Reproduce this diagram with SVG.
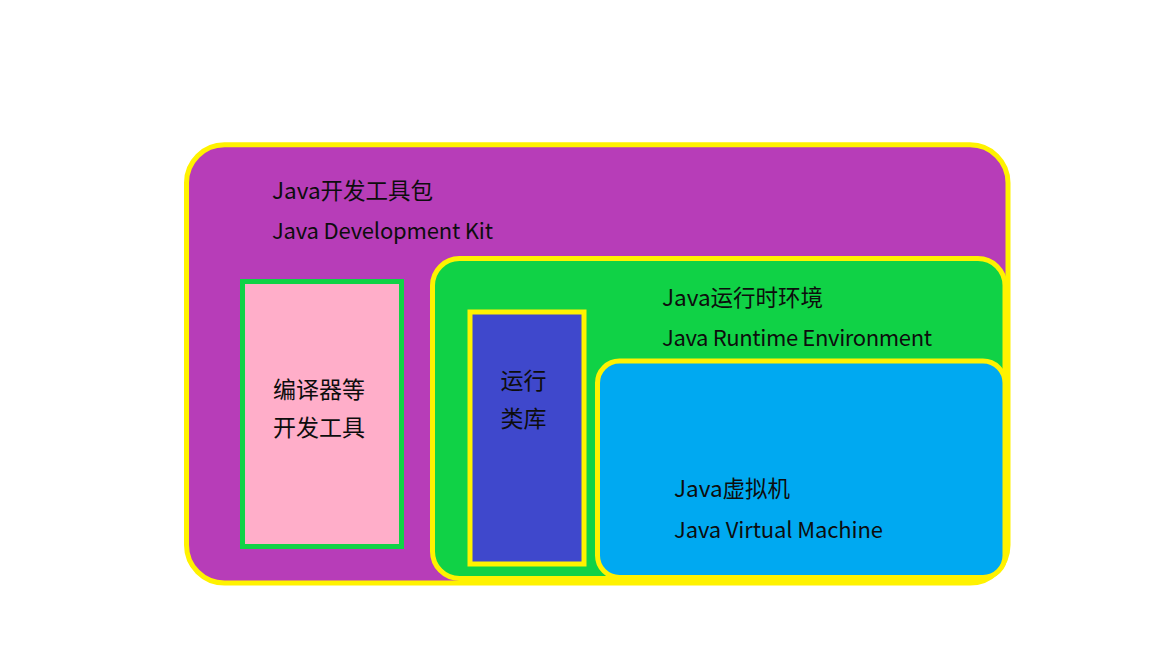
<svg xmlns="http://www.w3.org/2000/svg" width="1152" height="648" viewBox="0 0 1152 648">
  <style>
    .box { stroke-width: 5; }
    .ys { stroke: #FFF200; }
    .gs { stroke: #10D246; }
    .t { font-family: "Noto Sans CJK SC", "Noto Sans", sans-serif; font-size: 22px; fill: #0d0d0d; }
    .c { font-size: 23px; }
    .m { font-size: 22.5px; }
  </style>
  <rect x="0" y="0" width="1152" height="648" fill="#FFFFFF"/>
  <g id="jdk">
    <rect class="box ys" x="186.5" y="144.8" width="821.5" height="438.2" rx="38" ry="38" fill="#B73DB8"/>
    <text class="t m" x="272" y="199">Java开发工具包</text>
    <text class="t" x="272" y="239" textLength="221">Java Development Kit</text>
  </g>
  <g id="tools">
    <rect class="box gs" x="242.5" y="281.5" width="159" height="265" fill="#FFAEC9"/>
    <text class="t c" x="273" y="398">编译器等</text>
    <text class="t c" x="273" y="436">开发工具</text>
  </g>
  <g id="jre">
    <rect class="box ys" x="432.5" y="258.5" width="572.5" height="320" rx="27" ry="27" fill="#10D246"/>
    <text class="t m" x="662" y="306">Java运行时环境</text>
    <text class="t" x="662" y="345.5" textLength="270">Java Runtime Environment</text>
  </g>
  <g id="lib">
    <rect class="box ys" x="470" y="312" width="114" height="252" fill="#3F48CC"/>
    <text class="t c" x="500.5" y="389">运行</text>
    <text class="t c" x="500.5" y="427">类库</text>
  </g>
  <g id="jvm">
    <rect class="box ys" x="597.5" y="361" width="407.5" height="216.5" rx="22" ry="22" fill="#00A9F1"/>
    <text class="t m" x="674" y="497">Java虚拟机</text>
    <text class="t" x="674" y="537.5" textLength="209">Java Virtual Machine</text>
  </g>
  <g id="connectors"></g>
</svg>
